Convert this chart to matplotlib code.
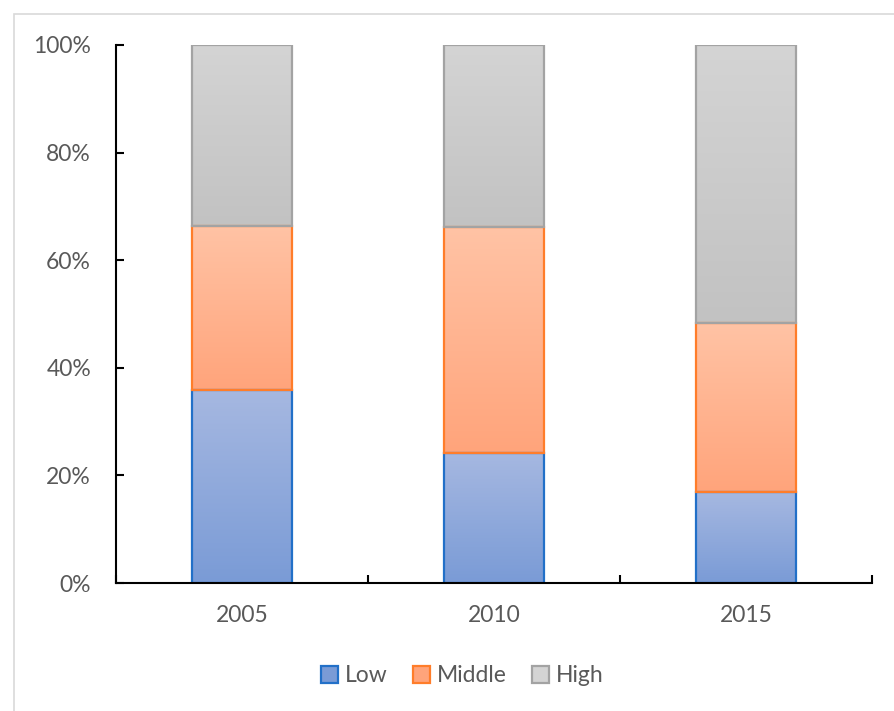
import numpy as np
import matplotlib.pyplot as plt
from matplotlib.patches import Patch, Rectangle
from matplotlib.colors import LinearSegmentedColormap

plt.rcParams['font.family'] = ['Lato', 'DejaVu Sans']

# share of each income group per year (%)
years = ['2005', '2010', '2015']
low = [35.9, 24.2, 16.9]
middle = [30.5, 42.0, 31.4]
high = [33.6, 33.8, 51.7]

series = ['Low', 'Middle', 'High']
# (top colour, bottom colour, edge colour)
styles = {
    'Low': ('#a6b8e1', '#7a9bd6', '#2270c8'),
    'Middle': ('#ffc3a5', '#ffa47b', '#ff7d2a'),
    'High': ('#d4d4d4', '#c2c2c2', '#a3a3a3'),
}

text_col = '#595959'
fs = 16.5

fig = plt.figure(figsize=(8.94, 7.11), dpi=100)
ax = fig.add_axes([116 / 894, 128 / 711, 756 / 894, 538 / 711])

# light frame around the chart area
fig.patches.append(Rectangle((14 / 894, -0.1), 1.0, (697 / 711) + 0.1,
                             transform=fig.transFigure, fill=False,
                             edgecolor='#d9d9d9', linewidth=1.2))

x = np.arange(len(years))
width = 0.4
bottom = np.zeros(len(years))
grad = np.linspace(1, 0, 256).reshape(-1, 1)

for name, vals in zip(series, [low, middle, high]):
    top_c, bot_c, edge_c = styles[name]
    cmap = LinearSegmentedColormap.from_list(name, [bot_c, top_c])
    bars = ax.bar(x, vals, width, bottom=bottom, facecolor='none',
                  edgecolor=edge_c, linewidth=1.6, zorder=3)
    for b in bars:
        x0, y0 = b.get_x(), b.get_y()
        ax.imshow(grad, cmap=cmap, aspect='auto', zorder=2,
                  extent=[x0, x0 + b.get_width(), y0, y0 + b.get_height()])
    bottom += np.array(vals)

ax.set_xlim(-0.5, len(years) - 0.5)
ax.set_ylim(0, 100)
ax.set_xticks(x)
ax.set_xticklabels(years)
ax.set_xticks(np.arange(-0.5, len(years), 1.0), minor=True)
ax.set_yticks(np.arange(0, 101, 20))
ax.set_yticklabels([f'{v}%' for v in range(0, 101, 20)])

ax.tick_params(axis='x', which='major', length=0, pad=16, labelsize=fs, labelcolor=text_col)
ax.tick_params(axis='x', which='minor', direction='in', length=6, width=1.5, color='black')
ax.tick_params(axis='y', direction='in', length=6, width=1.5, pad=18, labelsize=fs, labelcolor=text_col)

for side in ['top', 'right']:
    ax.spines[side].set_visible(False)
for side in ['left', 'bottom']:
    ax.spines[side].set_linewidth(1.5)
    ax.spines[side].set_zorder(4)

handles = [Patch(facecolor=styles[n][1] if n != 'High' else styles[n][0],
                 edgecolor=styles[n][2], linewidth=1.6, label=n) for n in series]
fig.legend(handles=handles, loc='center', bbox_to_anchor=(462 / 894, 35 / 711),
           ncol=3, frameon=False, fontsize=fs, labelcolor=text_col,
           handlelength=0.75, handleheight=0.75, handletextpad=0.3, columnspacing=1.1)

fig.savefig('out.png', dpi=100)
